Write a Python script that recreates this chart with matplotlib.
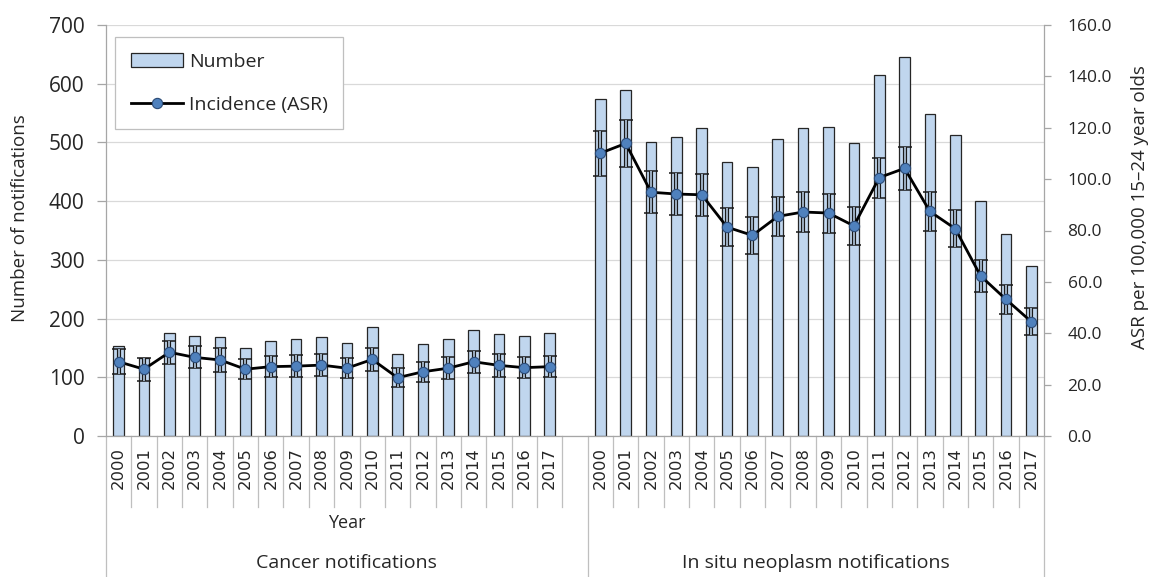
import matplotlib
matplotlib.use("Agg")
import matplotlib.pyplot as plt
import matplotlib.transforms as mtransforms
from matplotlib.lines import Line2D
from matplotlib.patches import Patch
import numpy as np

# ---------------- data ----------------
years = [str(y) for y in range(2000, 2018)]
groups = ["Cancer notifications", "In situ neoplasm notifications"]

cancer_number = [153, 133, 176, 170, 168, 150, 162, 165, 168, 159, 186, 140, 156, 165, 181, 173, 170, 176]
cancer_asr = [28.9, 26.0, 32.6, 30.6, 29.6, 26.0, 27.0, 27.2, 27.6, 26.4, 29.8, 22.7, 25.0, 26.4, 28.9, 27.5, 26.6, 27.0]
cancer_err = [4.8, 4.5, 4.5, 4.3, 4.5, 4.0, 4.2, 4.3, 4.2, 4.0, 4.5, 3.7, 4.0, 4.2, 4.3, 4.5, 4.2, 4.2]

insitu_number = [574, 590, 500, 510, 524, 467, 459, 505, 524, 526, 499, 614, 645, 548, 513, 400, 344, 289]
insitu_asr = [110.1, 113.9, 94.9, 94.2, 93.9, 81.3, 78.1, 85.5, 87.2, 86.8, 81.8, 100.6, 104.2, 87.4, 80.7, 62.3, 53.2, 44.5]
insitu_err = [8.8, 9.3, 8.1, 8.1, 8.1, 7.5, 7.1, 7.5, 7.6, 7.6, 7.3, 7.8, 8.3, 7.6, 7.1, 6.2, 5.6, 5.2]

left_ticks = [0, 100, 200, 300, 400, 500, 600, 700]
right_ticks = [0, 20, 40, 60, 80, 100, 120, 140, 160]

# ---------------- style ----------------
plt.rcParams["font.family"] = ["Open Sans", "DejaVu Sans"]
BAR_FILL = "#C0D6EE"
BAR_EDGE = "#262626"
MARK_FILL = "#4F81BD"
MARK_EDGE = "#2B4A75"
AXIS_GRAY = "#A6A6A6"
GRID_GRAY = "#D9D9D9"
TXT = "#262626"

W, H = 1152, 577
fig = plt.figure(figsize=(W / 100, H / 100), dpi=100)
ax_l, ax_r, ax_t, ax_b = 106, 1044, 25, 436
ax = fig.add_axes([ax_l / W, 1 - ax_b / H, (ax_r - ax_l) / W, (ax_b - ax_t) / H])
ah = ax_b - ax_t

n = len(years)
x_c = np.arange(n)
x_i = np.arange(n) + n + 1
ax.set_xlim(-0.5, 2 * n + 0.5)
ax.set_ylim(left_ticks[0], left_ticks[-1])
ax.set_yticks(left_ticks)
ax.set_yticklabels([str(v) for v in left_ticks])
ax.set_axisbelow(True)
ax.yaxis.grid(True, color=GRID_GRAY, lw=0.9)
ax.set_xticks([])

ax.bar(x_c, cancer_number, width=0.42, color=BAR_FILL, edgecolor=BAR_EDGE, lw=0.9, zorder=2)
ax.bar(x_i, insitu_number, width=0.42, color=BAR_FILL, edgecolor=BAR_EDGE, lw=0.9, zorder=2)

for s in ["top", "right"]:
    ax.spines[s].set_visible(False)
for s in ["left", "bottom"]:
    ax.spines[s].set_color(AXIS_GRAY)
    ax.spines[s].set_linewidth(0.9)
ax.tick_params(axis="y", length=6.5, width=0.9, color=AXIS_GRAY, labelsize=15,
               labelcolor=TXT, pad=9)
ax.tick_params(axis="x", length=0)

ax2 = ax.twinx()
ax2.set_ylim(right_ticks[0], right_ticks[-1])
ax2.set_yticks(right_ticks)
ax2.set_yticklabels([f"{v:.1f}" for v in right_ticks])
for s in ["top", "left", "bottom"]:
    ax2.spines[s].set_visible(False)
ax2.spines["right"].set_color(AXIS_GRAY)
ax2.spines["right"].set_linewidth(0.9)
ax2.tick_params(axis="y", length=5, width=0.9, color=AXIS_GRAY, labelsize=12.5,
                labelcolor=TXT, pad=12)

for xs, ys, es in [(x_c, cancer_asr, cancer_err), (x_i, insitu_asr, insitu_err)]:
    ax2.errorbar(xs, ys, yerr=es, fmt="none", ecolor="#1A1A1A", elinewidth=3.0,
                 capsize=4.7, capthick=1.1, zorder=3)
    ax2.errorbar(xs, ys, yerr=es, fmt="none", ecolor=BAR_FILL, elinewidth=1.1,
                 capsize=0, zorder=3.1)
    ax2.plot(xs, ys, color="black", lw=2.0, marker="o", ms=7.4, mfc=MARK_FILL,
             mec=MARK_EDGE, mew=0.8, zorder=4)

# ---------------- multi-level category axis ----------------
tr = mtransforms.blended_transform_factory(ax.transData, ax.transAxes)

def py(p):
    return (ax_b - p) / ah

for xs in (x_c, x_i):
    for x, lab in zip(xs, years):
        ax.text(x, py(447), lab, transform=tr, rotation=90, ha="center", va="top",
                fontsize=11.8, color=TXT, family=["DejaVu Sans"])

short_b = list(np.arange(0.5, n + 0.5, 1.0)) + list(np.arange(n + 1.5, 2 * n + 0.5, 1.0))
long_b = [-0.5, n + 0.5, 2 * n + 0.5]
for b in short_b:
    ax.add_line(Line2D([b, b], [0, py(507)], transform=tr, color="#BFBFBF", lw=0.9, clip_on=False))
for b in long_b:
    ax.add_line(Line2D([b, b], [0, py(577)], transform=tr, color="#BFBFBF", lw=0.9, clip_on=False))

left_center = (-0.5 + n + 0.5) / 2
right_center = (n + 0.5 + 2 * n + 0.5) / 2
ax.text(left_center, py(523), "Year", transform=tr, ha="center", va="center",
        fontsize=13, color=TXT)
ax.text(left_center, py(563), groups[0], transform=tr, ha="center", va="center",
        fontsize=14, color=TXT)
ax.text(right_center, py(563), groups[1], transform=tr, ha="center", va="center",
        fontsize=14, color=TXT)

# axis titles
fig.text(20 / W, 1 - 218 / H, "Number of notifications", rotation=90, ha="center",
         va="center", fontsize=13.5, color=TXT)
fig.text(1140 / W, 1 - 207 / H, "ASR per 100,000 15\u201324 year olds", rotation=90,
         ha="center", va="center", fontsize=13.5, color=TXT)

# legend
handles = [
    Patch(facecolor=BAR_FILL, edgecolor=BAR_EDGE, lw=0.9, label="Number"),
    Line2D([], [], color="black", lw=2.0, marker="o", ms=7.4, mfc=MARK_FILL,
           mec=MARK_EDGE, mew=0.8, label="Incidence (ASR)"),
]
leg = ax2.legend(handles=handles, loc="upper left",
                 bbox_to_anchor=((115 - ax_l) / (ax_r - ax_l), py(37)),
                 borderaxespad=0, fontsize=14, frameon=True, fancybox=False,
                 edgecolor="#BFBFBF", framealpha=1, labelspacing=1.3,
                 handlelength=2.7, handletextpad=0.3, borderpad=0.8)
leg.get_frame().set_linewidth(0.9)
for t in leg.get_texts():
    t.set_color(TXT)

fig.savefig("out.png", dpi=100)
